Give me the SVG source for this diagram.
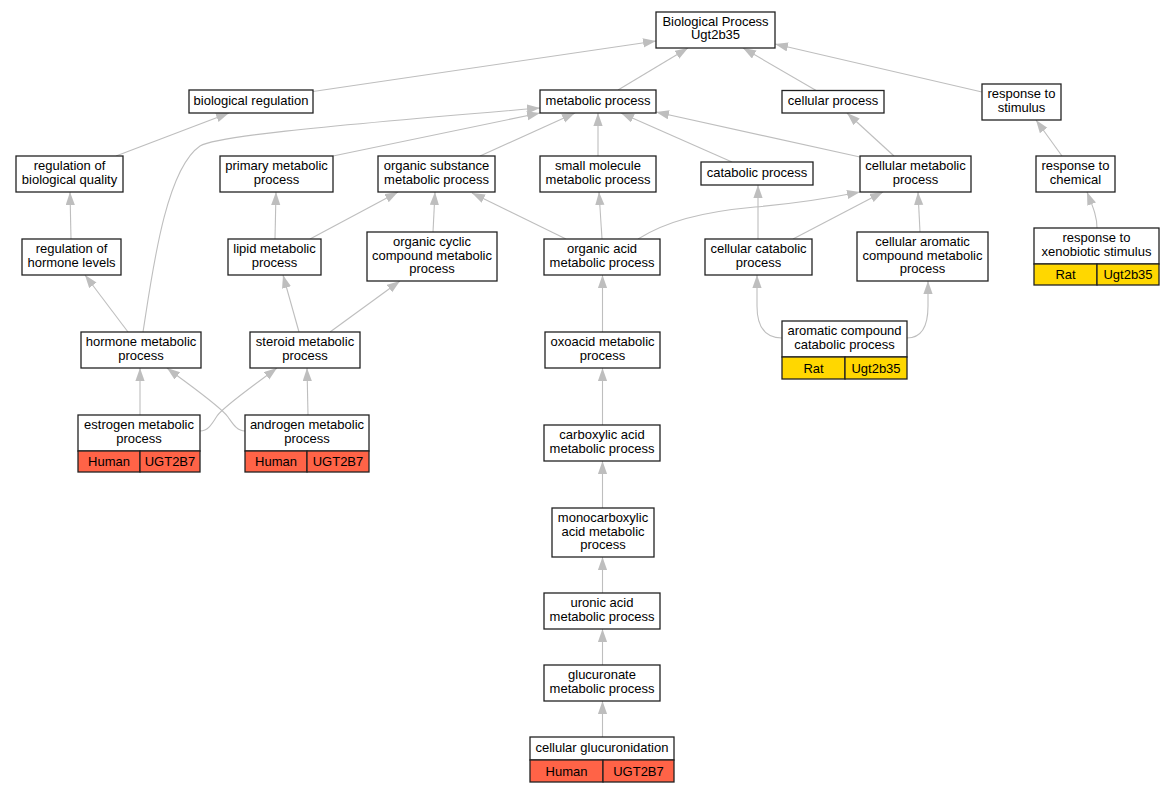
<svg xmlns="http://www.w3.org/2000/svg" width="1173" height="792" viewBox="0 0 1173 792">
<style>
.n rect{fill:#fff;stroke:#222;stroke-width:1.3}
.n line{stroke:#222;stroke-width:1.3}
.n text{font-family:"Liberation Sans",Arial,sans-serif;font-size:13px;text-anchor:middle;fill:#000}
.n rect.h{fill:#ff6347}
.n rect.r{fill:#ffd700}
#edges path{fill:none;stroke:#bebebe;stroke-width:1.1;marker-end:url(#ah)}
</style>
<defs>
<marker id="ah" markerUnits="userSpaceOnUse" markerWidth="14" markerHeight="10" refX="13" refY="4.6" orient="auto">
<path d="M0,0 L13,4.6 L0,9.2 z" fill="#bebebe"/>
</marker>
</defs>
<rect width="1173" height="792" fill="#fff"/>
<g id="edges">
<path d="M618,90 L688,48"/>
<path d="M313,91.5 L656,41"/>
<path d="M817,91 L743,48"/>
<path d="M982,92 L775,44"/>
<path d="M116,156 L229,113"/>
<path d="M71,239 L70,192"/>
<path d="M128,332 L85,275"/>
<path d="M143,332 C152,275 165,170 200,146 C215,137 300,128 540,108"/>
<path d="M333,156 L540,113"/>
<path d="M480,156 L575,113"/>
<path d="M598,156 L598,113"/>
<path d="M732,162 L621,113"/>
<path d="M860,157 L656,112"/>
<path d="M894,156 L847,113"/>
<path d="M1062,156 L1036,120"/>
<path d="M1097,228 C1097,215 1092,205 1087,192"/>
<path d="M275,239 L276,192"/>
<path d="M310,239 L398,192"/>
<path d="M433,232 L435,192"/>
<path d="M566,239 L472,193"/>
<path d="M602,239 L599,192"/>
<path d="M638,239 C665,222 700,212 755,207 C790,204 820,200 860,192"/>
<path d="M758,239 L758,185"/>
<path d="M793,239 L883,192"/>
<path d="M920,232 L918,192"/>
<path d="M782,338 C764,338 757,326 757,306 L757,275"/>
<path d="M907,338 C921,338 928,327 928,306 L928,281"/>
<path d="M299,332 L283,275"/>
<path d="M330,332 L400,281"/>
<path d="M140,415 L140,368"/>
<path d="M200,431 C208,431 212,424 217,416 C223,407 250,388 277,368"/>
<path d="M245,431 C237,431 233,424 228,417 C221,407 192,387 167,368"/>
<path d="M308,415 L307,368"/>
<path d="M602.5,332 L602.5,275"/>
<path d="M602.5,425 L602.5,368"/>
<path d="M602.5,508 L602.5,461"/>
<path d="M602.5,593 L602.5,557"/>
<path d="M602.5,665 L602.5,629"/>
<path d="M602.5,737 L602.5,701"/>
</g>
<g id="bp" class="n"><rect x="656" y="12" width="119" height="36"/><text x="715.5" y="26">Biological Process</text><text x="715.5" y="39.3">Ugt2b35</text></g>
<g id="bioreg" class="n"><rect x="189" y="90" width="124" height="23"/><text x="251" y="105">biological regulation</text></g>
<g id="metab" class="n"><rect x="540" y="90" width="116" height="23"/><text x="598" y="105">metabolic process</text></g>
<g id="cellproc" class="n"><rect x="782" y="90.5" width="102" height="22.5"/><text x="833" y="105">cellular process</text></g>
<g id="respstim" class="n"><rect x="982" y="84" width="79" height="36"/><text x="1021.5" y="98.3">response to</text><text x="1021.5" y="111.6">stimulus</text></g>
<g id="regbq" class="n"><rect x="16" y="156" width="107" height="36"/><text x="69.5" y="170.3">regulation of</text><text x="69.5" y="183.6">biological quality</text></g>
<g id="primary" class="n"><rect x="220" y="156" width="113" height="36"/><text x="276.5" y="170.3">primary metabolic</text><text x="276.5" y="183.6">process</text></g>
<g id="orgsub" class="n"><rect x="378" y="156" width="117" height="36"/><text x="436.5" y="170.3">organic substance</text><text x="436.5" y="183.6">metabolic process</text></g>
<g id="smallmol" class="n"><rect x="540" y="156" width="116" height="36"/><text x="598" y="170.3">small molecule</text><text x="598" y="183.6">metabolic process</text></g>
<g id="catab" class="n"><rect x="701" y="162" width="112" height="23"/><text x="757" y="177">catabolic process</text></g>
<g id="cellmet" class="n"><rect x="860" y="156" width="111" height="36"/><text x="915.5" y="170.3">cellular metabolic</text><text x="915.5" y="183.6">process</text></g>
<g id="respchem" class="n"><rect x="1036" y="156" width="79" height="36"/><text x="1075.5" y="170.3">response to</text><text x="1075.5" y="183.6">chemical</text></g>
<g id="reghorm" class="n"><rect x="22" y="239" width="99" height="36"/><text x="71.5" y="253.3">regulation of</text><text x="71.5" y="266.6">hormone levels</text></g>
<g id="lipid" class="n"><rect x="228" y="239" width="93" height="36"/><text x="274.5" y="253.3">lipid metabolic</text><text x="274.5" y="266.6">process</text></g>
<g id="orgcyc" class="n"><rect x="367" y="232" width="130" height="49"/><text x="432" y="246.2">organic cyclic</text><text x="432" y="259.5">compound metabolic</text><text x="432" y="272.8">process</text></g>
<g id="orgacid" class="n"><rect x="544" y="239" width="116" height="36"/><text x="602" y="253.3">organic acid</text><text x="602" y="266.6">metabolic process</text></g>
<g id="cellcat" class="n"><rect x="705" y="239" width="107" height="36"/><text x="758.5" y="253.3">cellular catabolic</text><text x="758.5" y="266.6">process</text></g>
<g id="cellarom" class="n"><rect x="857" y="232" width="131" height="49"/><text x="922.5" y="246.2">cellular aromatic</text><text x="922.5" y="259.5">compound metabolic</text><text x="922.5" y="272.8">process</text></g>
<g id="xeno" class="n"><rect x="1034" y="228" width="125" height="36"/><rect class="r" x="1034" y="264" width="63" height="21"/><rect class="r" x="1097" y="264" width="62" height="21"/><text x="1096.5" y="242.3">response to</text><text x="1096.5" y="255.6">xenobiotic stimulus</text><text x="1065.5" y="279">Rat</text><text x="1128" y="279">Ugt2b35</text></g>
<g id="hormone" class="n"><rect x="81" y="332" width="120" height="36"/><text x="141" y="346.3">hormone metabolic</text><text x="141" y="359.6">process</text></g>
<g id="steroid" class="n"><rect x="250" y="332" width="110" height="36"/><text x="305" y="346.3">steroid metabolic</text><text x="305" y="359.6">process</text></g>
<g id="oxoacid" class="n"><rect x="545" y="332" width="115" height="36"/><text x="602.5" y="346.3">oxoacid metabolic</text><text x="602.5" y="359.6">process</text></g>
<g id="aromcat" class="n"><rect x="782" y="321" width="125" height="36"/><rect class="r" x="782" y="357" width="63" height="22"/><rect class="r" x="845" y="357" width="62" height="22"/><text x="844.5" y="335.3">aromatic compound</text><text x="844.5" y="348.6">catabolic process</text><text x="813.5" y="372.5">Rat</text><text x="876" y="372.5">Ugt2b35</text></g>
<g id="estrogen" class="n"><rect x="78" y="415" width="122" height="36"/><rect class="h" x="78" y="451" width="62" height="21"/><rect class="h" x="140" y="451" width="60" height="21"/><text x="139" y="429.3">estrogen metabolic</text><text x="139" y="442.6">process</text><text x="109" y="466">Human</text><text x="170" y="466">UGT2B7</text></g>
<g id="androgen" class="n"><rect x="245" y="415" width="124" height="36"/><rect class="h" x="245" y="451" width="62" height="21"/><rect class="h" x="307" y="451" width="62" height="21"/><text x="307" y="429.3">androgen metabolic</text><text x="307" y="442.6">process</text><text x="276" y="466">Human</text><text x="338" y="466">UGT2B7</text></g>
<g id="carbox" class="n"><rect x="544" y="425" width="116" height="36"/><text x="602" y="439.3">carboxylic acid</text><text x="602" y="452.6">metabolic process</text></g>
<g id="monocarb" class="n"><rect x="552" y="508" width="102" height="49"/><text x="603" y="522.2">monocarboxylic</text><text x="603" y="535.5">acid metabolic</text><text x="603" y="548.8">process</text></g>
<g id="uronic" class="n"><rect x="544" y="593" width="116" height="36"/><text x="602" y="607.3">uronic acid</text><text x="602" y="620.6">metabolic process</text></g>
<g id="glucuronate" class="n"><rect x="544" y="665" width="116" height="36"/><text x="602" y="679.3">glucuronate</text><text x="602" y="692.6">metabolic process</text></g>
<g id="glucuronidation" class="n"><rect x="530" y="737" width="144" height="23"/><rect class="h" x="530" y="760" width="73" height="22"/><rect class="h" x="603" y="760" width="71" height="22"/><text x="602" y="752">cellular glucuronidation</text><text x="566.5" y="775.5">Human</text><text x="638.5" y="775.5">UGT2B7</text></g>
</svg>
